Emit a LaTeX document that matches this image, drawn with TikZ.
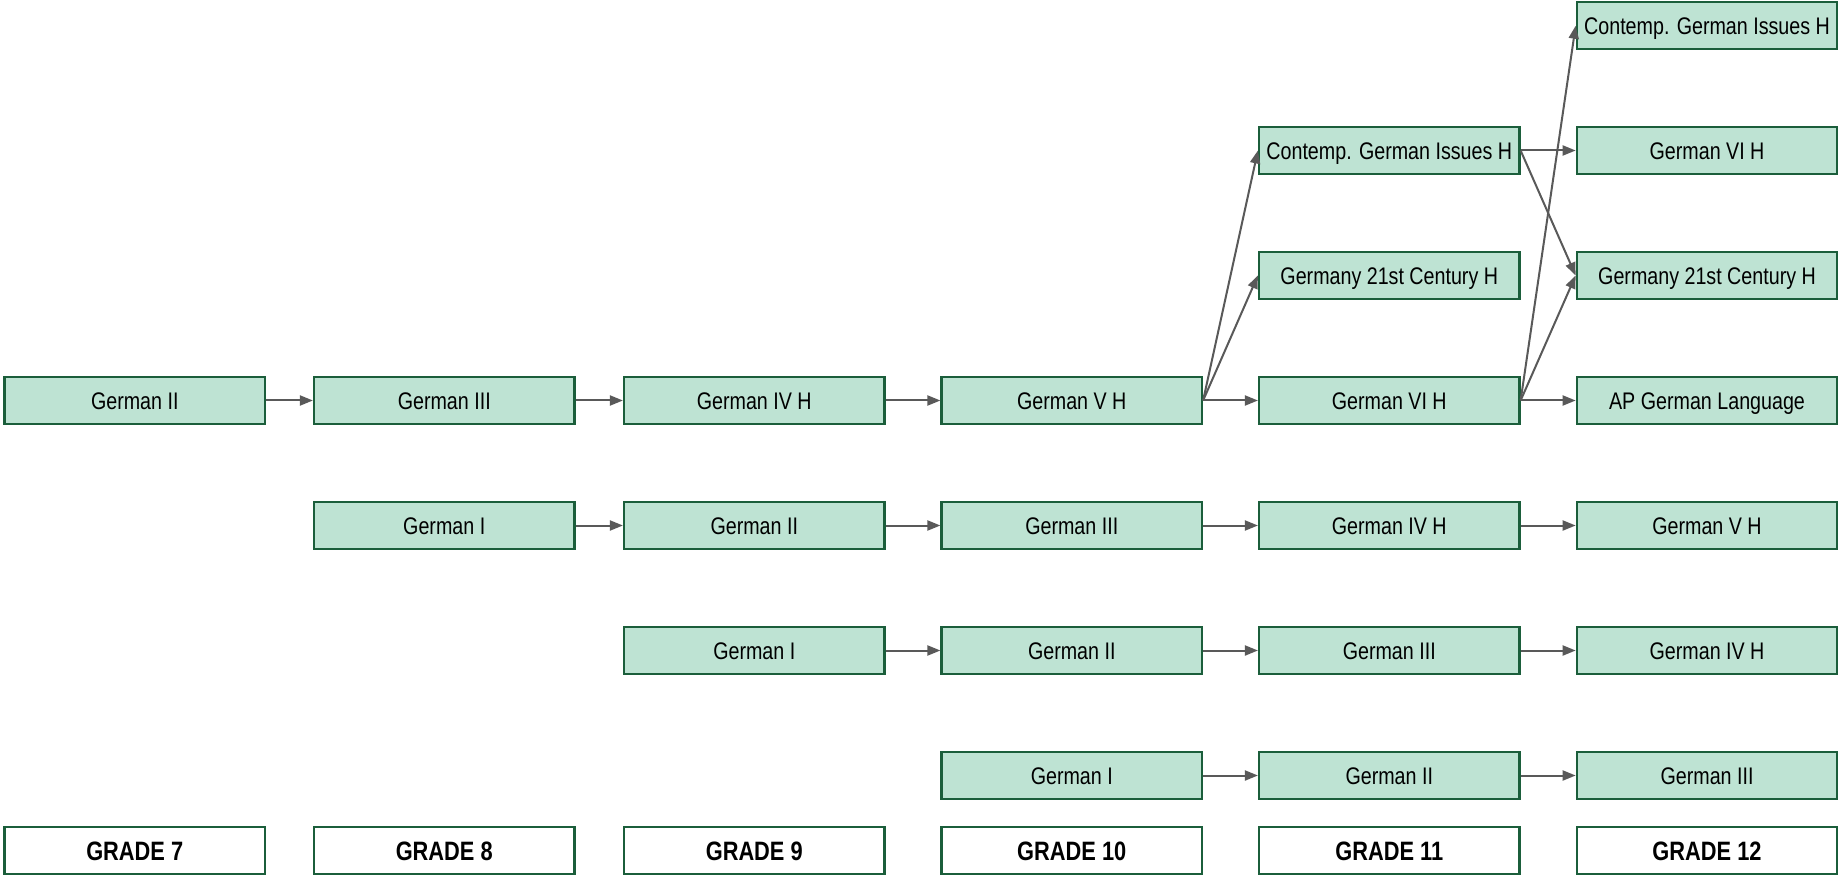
\documentclass[tikz,border=0pt]{standalone}
\usepackage{fontspec}
\setmainfont{Liberation Sans}[FakeStretch=0.82]
\usetikzlibrary{arrows.meta}
\definecolor{boxfill}{HTML}{BEE3D3}
\definecolor{boxline}{HTML}{1B5E3B}
\definecolor{arrowgray}{HTML}{595959}
\tikzset{
  course/.style={draw=boxline, fill=boxfill, line width=1.1pt, minimum width=130.25pt, minimum height=23.5pt, inner sep=0pt, text height=8.6pt, text depth=0pt, font=\fontsize{12pt}{14pt}\selectfont, text=black},
  gradebox/.style={draw=boxline, fill=white, line width=1.1pt, minimum width=130.25pt, minimum height=23.5pt, inner sep=0pt, text height=9.5pt, text depth=0pt, font=\fontsize{13.3pt}{15pt}\selectfont\bfseries, text=black},
  link/.style={draw=arrowgray, line width=1pt, -{Triangle[length=6.5pt,width=5pt]}}
}
\begin{document}
\begin{tikzpicture}[x=0.5pt,y=-0.5pt]
\useasboundingbox (0,0) rectangle (1839,876);
% column centres
\def\ca{134.75}\def\cb{444.25}\def\cc{754.25}\def\cd{1071.75}\def\ce{1389.25}\def\cf{1707}
% rows
\def\ra{25.75}\def\rb{150.5}\def\rc{275.5}\def\rd{400.5}\def\re{525.5}\def\rf{650.5}\def\rg{775.5}\def\rh{850.5}
% grade 7
\node[course] (a4) at (\ca,\rd) {German II};
\node[gradebox] (ga) at (\ca,\rh) {GRADE 7};
% grade 8
\node[course] (b4) at (\cb,\rd) {German III};
\node[course] (b5) at (\cb,\re) {German I};
\node[gradebox] (gb) at (\cb,\rh) {GRADE 8};
% grade 9
\node[course] (c4) at (\cc,\rd) {German IV H};
\node[course] (c5) at (\cc,\re) {German II};
\node[course] (c6) at (\cc,\rf) {German I};
\node[gradebox] (gc) at (\cc,\rh) {GRADE 9};
% grade 10
\node[course] (d4) at (\cd,\rd) {German V H};
\node[course] (d5) at (\cd,\re) {German III};
\node[course] (d6) at (\cd,\rf) {German II};
\node[course] (d7) at (\cd,\rg) {German I};
\node[gradebox] (gd) at (\cd,\rh) {GRADE 10};
% grade 11
\node[course] (e2) at (\ce,\rb) {Contemp. German Issues H};
\node[course] (e3) at (\ce,\rc) {Germany 21st Century H};
\node[course] (e4) at (\ce,\rd) {German VI H};
\node[course] (e5) at (\ce,\re) {German IV H};
\node[course] (e6) at (\ce,\rf) {German III};
\node[course] (e7) at (\ce,\rg) {German II};
\node[gradebox] (ge) at (\ce,\rh) {GRADE 11};
% grade 12
\node[course] (f1) at (\cf,\ra) {Contemp. German Issues H};
\node[course] (f2) at (\cf,\rb) {German VI H};
\node[course] (f3) at (\cf,\rc) {Germany 21st Century H};
\node[course] (f4) at (\cf,\rd) {AP German Language};
\node[course] (f5) at (\cf,\re) {German V H};
\node[course] (f6) at (\cf,\rf) {German IV H};
\node[course] (f7) at (\cf,\rg) {German III};
\node[gradebox] (gf) at (\cf,\rh) {GRADE 12};
% connectors
\draw[link] (a4.east) -- (b4.west);
\draw[link] (b4.east) -- (c4.west);
\draw[link] (c4.east) -- (d4.west);
\draw[link] (d4.east) -- (e2.west);
\draw[link] (d4.east) -- (e3.west);
\draw[link] (d4.east) -- (e4.west);
\draw[link] (e2.east) -- (f2.west);
\draw[link] (e2.east) -- (f3.west);
\draw[link] (e4.east) -- (f1.west);
\draw[link] (e4.east) -- (f3.west);
\draw[link] (e4.east) -- (f4.west);
\draw[link] (b5.east) -- (c5.west);
\draw[link] (c5.east) -- (d5.west);
\draw[link] (d5.east) -- (e5.west);
\draw[link] (e5.east) -- (f5.west);
\draw[link] (c6.east) -- (d6.west);
\draw[link] (d6.east) -- (e6.west);
\draw[link] (e6.east) -- (f6.west);
\draw[link] (d7.east) -- (e7.west);
\draw[link] (e7.east) -- (f7.west);
\end{tikzpicture}
\end{document}
